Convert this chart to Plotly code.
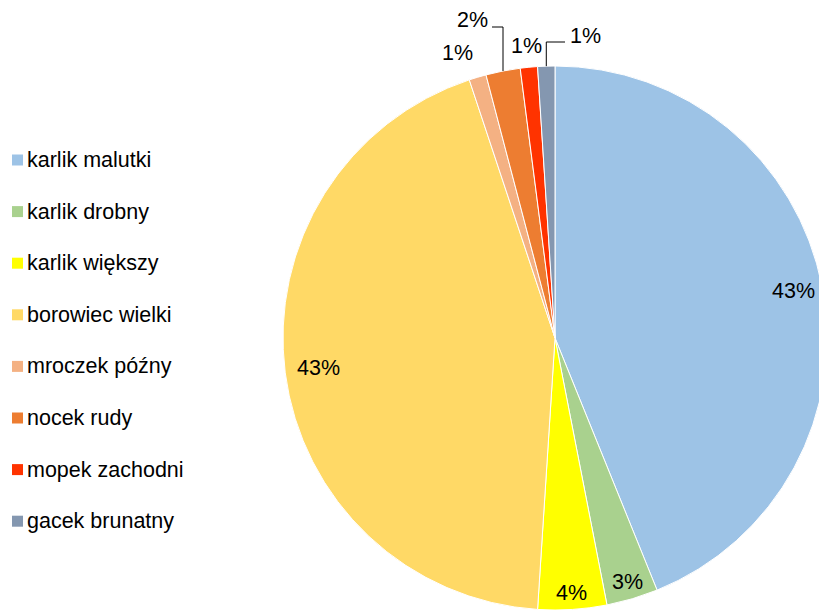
import math
import plotly.graph_objects as go

species = ["karlik malutki", "karlik drobny", "karlik większy", "borowiec wielki",
           "mroczek późny", "nocek rudy", "mopek zachodni", "gacek brunatny"]
shares = [43, 3, 4, 43, 1, 2, 1, 1]
colors = ["#9DC3E6", "#A9D18E", "#FFFF00", "#FFD966",
          "#F4B183", "#ED7D31", "#FF3300", "#8497B0"]

# the page adds an 8px body margin; keep the figure inside the window
OFF = 8
W, H = 827 - OFF, 610 - OFF
FONT = "Liberation Sans, Arial, sans-serif"

# pie geometry in figure pixels
PX0, PTOP = 275, 58
R = min(W - PX0, H - PTOP) / 2
CX, CY = PX0 + (W - PX0) / 2, PTOP + (H - PTOP) / 2


def px(x):  # page pixel -> paper
    return (x - OFF) / W


def py(y):
    return 1 - (y - OFF) / H


fig = go.Figure()
fig.add_trace(go.Pie(
    labels=species,
    values=shares,
    sort=False,
    direction="clockwise",
    rotation=0,
    marker=dict(colors=colors, line=dict(color="white", width=1)),
    textinfo="none",
    domain=dict(x=[PX0 / W, 1.0], y=[0.0, 1 - PTOP / H]),
    showlegend=False,
    hoverinfo="label+value",
))

# data labels placed along each slice's middle angle (page pixels)
total = sum(shares)
cum = 0
mids = []
for v in shares:
    mids.append((cum + v / 2) / total * 2 * math.pi)
    cum += v


def polar(a, rf):
    return CX + OFF + rf * R * math.sin(a), CY + OFF - rf * R * math.cos(a)


label_style = [
    (0.895, "center", "middle"),
    (0.937, "center", "middle"),
    (0.94, "center", "middle"),
    (0.875, "center", "middle"),
    (1.04, "right", "bottom"),
    (None, None, None),   # with leader line
    (1.08, "center", "middle"),
    (None, None, None),   # with leader line
]
tf = dict(family=FONT, size=21.5, color="#000000")
for i, (v, a, st) in enumerate(zip(shares, mids, label_style)):
    rf, xa, ya = st
    if rf is not None:
        x, y = polar(a, rf)
        fig.add_annotation(xref="paper", yref="paper", x=px(x), y=py(y),
                           text=f"{v}%", showarrow=False, xanchor=xa, yanchor=ya,
                           font=tf)

# leader lines: (elbow y, end x, text anchor, text y)
leader = {5: (27, 492, "right", 20), 7: (42, 565, "left", 36)}
for i, (ly, endx, xa, ty) in leader.items():
    ex, ey = polar(mids[i], 1.0)
    fig.add_shape(type="path", xref="paper", yref="paper",
                  path=f"M {px(ex)} {py(ey)} L {px(ex)} {py(ly)} L {px(endx)} {py(ly)}",
                  line=dict(color="#000000", width=1))
    tx = endx + (-2 if xa == "right" else 3)
    fig.add_annotation(xref="paper", yref="paper", x=px(tx), y=py(ty),
                       text=f"{shares[i]}%", showarrow=False, xanchor=xa, yanchor="middle",
                       font=tf)

# legend drawn as markers + text
y0 = 160
step = 51.6
for i, (name, col) in enumerate(zip(species, colors)):
    yc = y0 + i * step
    fig.add_shape(type="rect", xref="paper", yref="paper",
                  x0=px(12), x1=px(23), y0=py(yc + 5.5), y1=py(yc - 5.5),
                  fillcolor=col, line=dict(width=0))
    fig.add_annotation(xref="paper", yref="paper", x=px(25), y=py(yc),
                       text=name, showarrow=False, xanchor="left", yanchor="middle",
                       font=dict(family=FONT, size=21.5, color="#000000"))

fig.update_layout(
    width=W, height=H,
    margin=dict(l=0, r=0, t=0, b=0, autoexpand=False),
    paper_bgcolor="white",
    plot_bgcolor="white",
)

fig.write_html("out.html")
